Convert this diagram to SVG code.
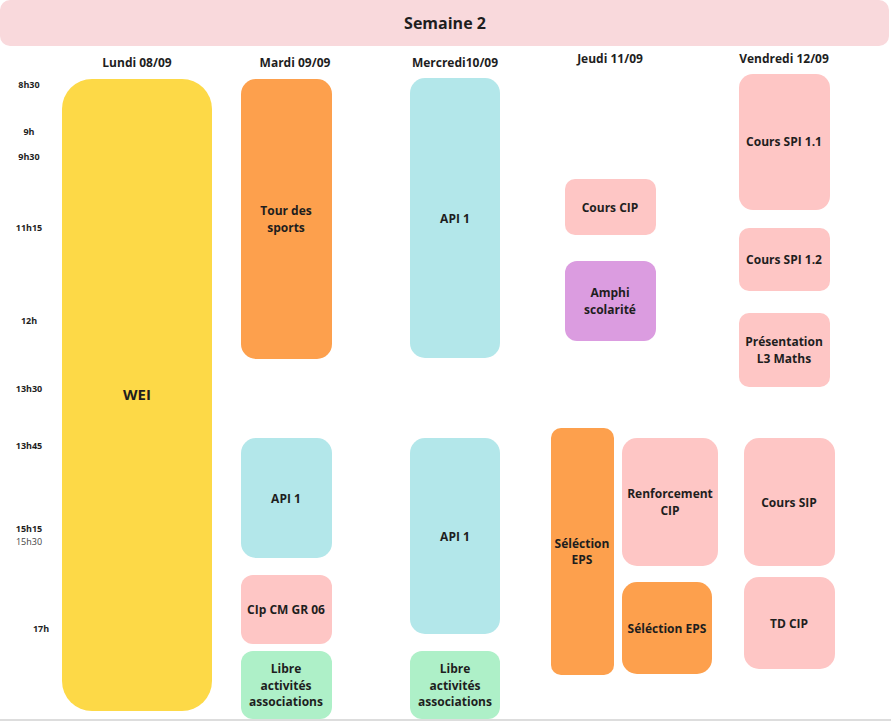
<svg xmlns="http://www.w3.org/2000/svg" width="891" height="721" viewBox="0 0 891 721">
<style>
text{font-family:"Open Sans","Noto Sans",sans-serif;font-weight:bold;fill:#1e1e1e;text-anchor:middle}
.n{font-size:12px}
.h{font-size:12px}
.t{font-size:9px}
.y{fill:#fdd947}.o{fill:#fda04d}.c{fill:#b3e7ea}.p{fill:#fec6c5}.v{fill:#db9ce0}.g{fill:#aef0c8}
</style>
<rect width="891" height="721" fill="#fff"/>
<g id="header"><rect x="0" y="0" width="889" height="46" rx="10" fill="#f9d9dc"/><text x="445" y="29" style="font-size:16px">Semaine 2</text></g>
<g id="days" class="h">
<text x="137" y="67" class="h">Lundi 08/09</text>
<text x="295" y="67" class="h">Mardi 09/09</text>
<text x="455" y="67" class="h">Mercredi10/09</text>
<text x="610" y="63" class="h">Jeudi 11/09</text>
<text x="784" y="63" class="h">Vendredi 12/09</text>
</g>
<g id="times" class="t">
<text x="29" y="88" class="t">8h30</text>
<text x="29" y="135" class="t">9h</text>
<text x="29" y="160" class="t">9h30</text>
<text x="29" y="231" class="t">11h15</text>
<text x="29" y="324" class="t">12h</text>
<text x="29" y="392" class="t">13h30</text>
<text x="29" y="449" class="t">13h45</text>
<text x="29" y="532" class="t">15h15</text>
<text x="29" y="545" class="t" style="font-weight:normal;fill:#444">15h30</text>
<text x="41" y="632" class="t">17h</text>
</g>
<g id="connectors"/>
<g id="wei"><rect class="y" x="62" y="79" width="150" height="632" rx="30"/><text x="137" y="400" style="font-size:15px">WEI</text></g>
<g id="tour"><rect class="o" x="241" y="79" width="91" height="280" rx="15"/><text class="n" x="286" y="215">Tour des</text><text class="n" x="286" y="232">sports</text></g>
<g id="api1-mer"><rect class="c" x="410" y="78" width="90" height="280" rx="15"/><text class="n" x="455" y="223">API 1</text></g>
<g id="cours-cip"><rect class="p" x="565" y="179" width="91" height="56" rx="10"/><text class="n" x="610" y="212">Cours CIP</text></g>
<g id="amphi"><rect class="v" x="565" y="261" width="91" height="80" rx="12"/><text class="n" x="610" y="297">Amphi</text><text class="n" x="610" y="314">scolarité</text></g>
<g id="spi11"><rect class="p" x="739" y="74" width="91" height="136" rx="14"/><text class="n" x="784" y="146">Cours SPI 1.1</text></g>
<g id="spi12"><rect class="p" x="739" y="228" width="91" height="63" rx="10"/><text class="n" x="784" y="264">Cours SPI 1.2</text></g>
<g id="pres"><rect class="p" x="739" y="313" width="91" height="74" rx="10"/><text class="n" x="784" y="346">Présentation</text><text class="n" x="784" y="363">L3 Maths</text></g>
<g id="api1-mar"><rect class="c" x="241" y="438" width="91" height="120" rx="15"/><text class="n" x="286" y="503">API 1</text></g>
<g id="cip-cm"><rect class="p" x="241" y="575" width="91" height="69" rx="12"/><text class="n" x="286" y="614">CIp CM GR 06</text></g>
<g id="libre-mar"><rect class="g" x="241" y="651" width="91" height="68" rx="12"/><text class="n" x="286" y="673">Libre</text><text class="n" x="286" y="690">activités</text><text class="n" x="286" y="706">associations</text></g>
<g id="api1-mer2"><rect class="c" x="410" y="438" width="90" height="196" rx="15"/><text class="n" x="455" y="541">API 1</text></g>
<g id="libre-mer"><rect class="g" x="410" y="651" width="90" height="68" rx="12"/><text class="n" x="455" y="673">Libre</text><text class="n" x="455" y="690">activités</text><text class="n" x="455" y="706">associations</text></g>
<g id="sel-eps1"><rect class="o" x="551" y="428" width="63" height="247" rx="10"/><text class="n" x="582" y="548">Séléction</text><text class="n" x="582" y="564">EPS</text></g>
<g id="renf"><rect class="p" x="622" y="438" width="96" height="128" rx="15"/><text class="n" x="670" y="498">Renforcement</text><text class="n" x="670" y="515">CIP</text></g>
<g id="sel-eps2"><rect class="o" x="622" y="582" width="90" height="92" rx="15"/><text class="n" x="667" y="633">Séléction EPS</text></g>
<g id="sip"><rect class="p" x="744" y="438" width="91" height="128" rx="15"/><text class="n" x="789" y="507">Cours SIP</text></g>
<g id="tdcip"><rect class="p" x="744" y="577" width="91" height="92" rx="15"/><text class="n" x="789" y="628">TD CIP</text></g>
<line x1="0" y1="720" x2="891" y2="720" stroke="#ddd" stroke-width="2"/>
</svg>
